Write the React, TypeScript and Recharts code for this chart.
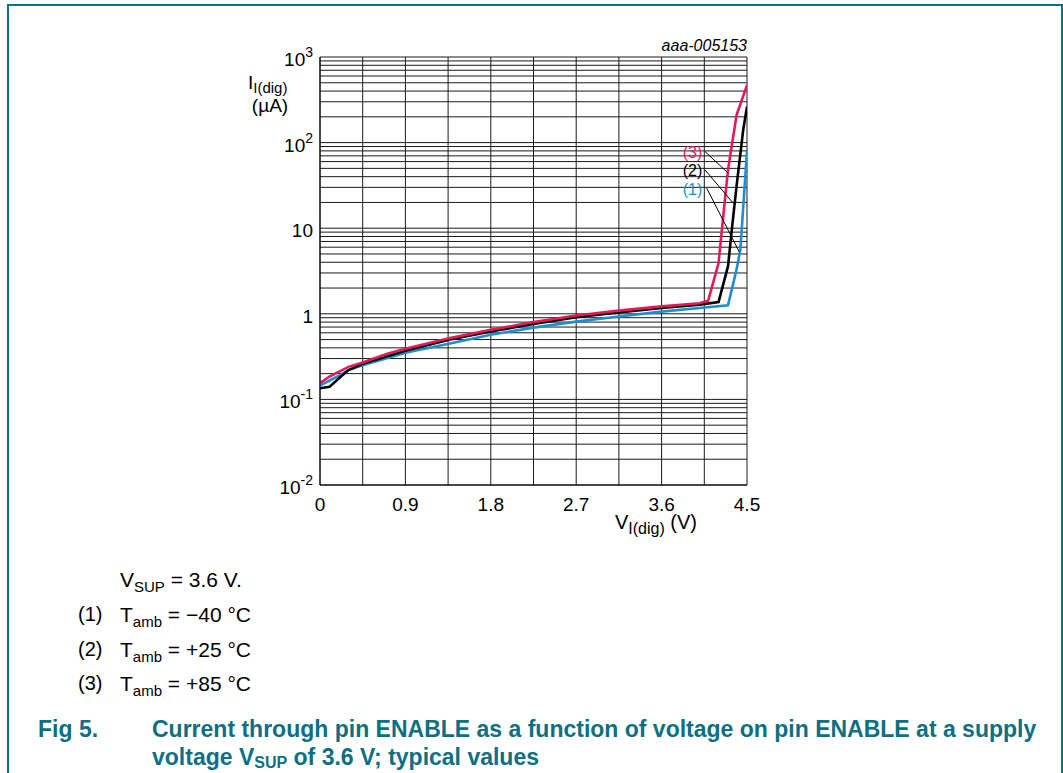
import React from 'react';
import { LineChart, Line, XAxis, YAxis, CartesianGrid, ReferenceLine, ReferenceDot } from 'recharts';

// axis ticks (V every 0.45, log grid 1..9 per decade)
const xTicks = [0, 0.45, 0.9, 1.35, 1.8, 2.25, 2.7, 3.15, 3.6, 4.05, 4.5];
const xLabelTicks = [0, 0.9, 1.8, 2.7, 3.6, 4.5];
const yTicks = [
  0.01, 0.02, 0.03, 0.04, 0.05, 0.06, 0.07, 0.08, 0.09,
  0.1, 0.2, 0.3, 0.4, 0.5, 0.6, 0.7, 0.8, 0.9,
  1, 2, 3, 4, 5, 6, 7, 8, 9,
  10, 20, 30, 40, 50, 60, 70, 80, 90,
  100, 200, 300, 400, 500, 600, 700, 800, 900,
  1000,
];
const yDecades = [1000, 100, 10, 1, 0.1, 0.01];
const yDecadeBase = ['10', '10', '10', '1', '10', '10'];
const yDecadeExp = ['3', '2', '', '', '-1', '-2'];

// (1) Tamb = -40 C
const vCold = [0, 0.2, 0.3, 0.45, 0.9, 1.37, 1.8, 2.25, 2.7, 3.15, 3.6, 4.0, 4.3, 4.39, 4.43, 4.5];
const iCold = [0.145, 0.19, 0.22, 0.25, 0.35, 0.45, 0.57, 0.69, 0.81, 0.93, 1.06, 1.17, 1.26, 3.3, 5.6, 80];
// (2) Tamb = +25 C
const vRoom = [0, 0.1, 0.2, 0.3, 0.45, 0.9, 1.37, 1.8, 2.25, 2.7, 3.15, 3.6, 4.0, 4.2, 4.3, 4.34, 4.39, 4.46, 4.5];
const iRoom = [0.135, 0.14, 0.177, 0.22, 0.26, 0.37, 0.5, 0.62, 0.76, 0.91, 1.04, 1.17, 1.28, 1.37, 3.6, 9.6, 31, 141, 263];
// (3) Tamb = +85 C
const vHot = [0, 0.1, 0.3, 0.45, 0.7, 0.9, 1.37, 1.8, 2.25, 2.7, 3.15, 3.6, 4.0, 4.09, 4.2, 4.27, 4.3, 4.39, 4.5];
const iHot = [0.155, 0.185, 0.24, 0.27, 0.34, 0.39, 0.52, 0.65, 0.8, 0.955, 1.09, 1.22, 1.33, 1.42, 3.9, 23, 48, 210, 470];

const seriesLabels = ['(1)', '(2)', '(3)'];
const seriesColors = ['#1f8dd0', '#000000', '#e5185d'];
// label anchor and leader line ends, in data units
const labelPos = [
  { x: 3.925, y: 28.1 },
  { x: 3.925, y: 46.9 },
  { x: 3.925, y: 76 },
];
const leaderLines = [
  [{ x: 4.075, y: 29.4 }, { x: 4.418, y: 5.3 }],
  [{ x: 4.057, y: 48 }, { x: 4.355, y: 19.6 }],
  [{ x: 4.057, y: 78.7 }, { x: 4.302, y: 44 }],
];

const toPoints = (vs: number[], is: number[]) => vs.map((v, k) => ({ v, i: is[k] }));
const dataCold = toPoints(vCold, iCold);
const dataRoom = toPoints(vRoom, iRoom);
const dataHot = toPoints(vHot, iHot);

const FONT = '"Liberation Sans", Arial, Helvetica, sans-serif';
const TEAL = '#0d6f83';

const XTick = (props: any) => {
  const { x, y, payload } = props;
  if (!xLabelTicks.some((t) => Math.abs(t - payload.value) < 1e-6)) return null;
  return (
    <text x={x} y={y + 26} textAnchor="middle" fontSize={19} fontFamily={FONT} fill="#000">
      {String(payload.value)}
    </text>
  );
};

const YTick = (props: any) => {
  const { x, y, payload } = props;
  const k = yDecades.findIndex((d) => Math.abs(d - payload.value) / d < 1e-6);
  if (k < 0) return null;
  return (
    <text x={x - 7} y={y + 9} textAnchor="end" fontSize={19} fontFamily={FONT} fill="#000">
      {yDecadeBase[k]}
      {yDecadeExp[k] && (
        <tspan fontSize={14} dy={-9}>
          {yDecadeExp[k]}
        </tspan>
      )}
    </text>
  );
};

const App: React.FC = () => {
  return (
    <div
      style={{
        position: 'absolute',
        left: 0,
        top: 0,
        width: 1063,
        height: 773,
        background: '#fff',
        overflow: 'hidden',
        fontFamily: FONT,
      }}
    >
      {/* figure frame, open at the bottom */}
      <div
        style={{
          position: 'absolute',
          left: 7,
          top: 4,
          width: 1056,
          height: 769,
          boxSizing: 'border-box',
          borderTop: `2px solid ${TEAL}`,
          borderLeft: `2px solid ${TEAL}`,
          borderRight: `2px solid ${TEAL}`,
        }}
      />

      <div style={{ position: 'absolute', left: 0, top: 0 }}>
        <LineChart width={1063} height={560} margin={{ top: 57, right: 316, bottom: 35, left: 260 }}>
          <CartesianGrid stroke="#1a1a1a" strokeWidth={1} />
          <XAxis
            type="number"
            dataKey="v"
            domain={[0, 4.5]}
            ticks={xTicks}
            interval={0}
            allowDataOverflow
            tickLine={false}
            tickSize={0}
            tickMargin={0}
            axisLine={{ stroke: '#000' }}
            tick={<XTick />}
            height={40}
          />
          <YAxis
            type="number"
            dataKey="i"
            scale="log"
            domain={[0.01, 1000]}
            ticks={yTicks}
            interval={0}
            allowDataOverflow
            tickLine={false}
            tickSize={0}
            tickMargin={0}
            axisLine={{ stroke: '#000' }}
            tick={<YTick />}
            width={60}
          />
          <Line data={dataCold} dataKey="i" type="linear" stroke={seriesColors[0]} strokeWidth={2.6} dot={false} isAnimationActive={false} />
          <Line data={dataRoom} dataKey="i" type="linear" stroke={seriesColors[1]} strokeWidth={2.6} dot={false} isAnimationActive={false} />
          <Line data={dataHot} dataKey="i" type="linear" stroke={seriesColors[2]} strokeWidth={2.6} dot={false} isAnimationActive={false} />
          {leaderLines.map((seg, k) => (
            <ReferenceLine key={`lead${k}`} segment={seg} stroke="#000" strokeWidth={1} />
          ))}
          {labelPos.map((p, k) => (
            <ReferenceDot
              key={`lab${k}`}
              x={p.x}
              y={p.y}
              r={0}
              shape={(sp: any) => (
                <text
                  x={sp.cx}
                  y={sp.cy + 5.5}
                  textAnchor="middle"
                  fontSize={16}
                  fontFamily={FONT}
                  fill={seriesColors[k]}
                >
                  {seriesLabels[k]}
                </text>
              )}
            />
          ))}
        </LineChart>
      </div>

      {/* axis titles and figure code */}
      <svg
        width={1063}
        height={560}
        style={{ position: 'absolute', left: 0, top: 0, pointerEvents: 'none' }}
        fontFamily={FONT}
      >
        <text x={747} y={51} textAnchor="end" fontSize={16} fontStyle="italic" fill="#000">
          aaa-005153
        </text>
        <text x={248} y={89} fontSize={19} fill="#000">
          I
          <tspan fontSize={15} dy={4}>
            I(dig)
          </tspan>
        </text>
        <text x={270} y={112} textAnchor="middle" fontSize={19} fill="#000">
          (µA)
        </text>
        <text x={615} y={529} fontSize={20} fill="#000">
          V
          <tspan fontSize={16} dy={5}>
            I(dig)
          </tspan>
          <tspan fontSize={20} dy={-5}>
            {' (V)'}
          </tspan>
        </text>
      </svg>

      {/* conditions */}
      <div style={{ position: 'absolute', left: 120, top: 569, fontSize: 21, lineHeight: '21px', whiteSpace: 'nowrap' }}>
        V<span style={{ fontSize: 15, position: 'relative', top: 5 }}>SUP</span> = 3.6 V.
      </div>
      {[
        ['(1)', '−40'],
        ['(2)', '+25'],
        ['(3)', '+85'],
      ].map(([n, t], k) => (
        <React.Fragment key={n}>
          <div style={{ position: 'absolute', left: 78, top: 604 + k * 34.5, fontSize: 20, lineHeight: '21px' }}>{n}</div>
          <div
            style={{ position: 'absolute', left: 120, top: 604 + k * 34.5, fontSize: 21, lineHeight: '21px', whiteSpace: 'nowrap' }}
          >
            T<span style={{ fontSize: 15, position: 'relative', top: 5 }}>amb</span> = {t} °C
          </div>
        </React.Fragment>
      ))}

      {/* caption */}
      <div
        style={{
          position: 'absolute',
          left: 38,
          top: 715,
          fontSize: 23,
          lineHeight: '28px',
          fontWeight: 'bold',
          color: TEAL,
          whiteSpace: 'nowrap',
        }}
      >
        Fig 5.
      </div>
      <div
        style={{
          position: 'absolute',
          left: 152,
          top: 715,
          fontSize: 23,
          lineHeight: '28px',
          fontWeight: 'bold',
          color: TEAL,
          whiteSpace: 'nowrap',
        }}
      >
        Current through pin ENABLE as a function of voltage on pin ENABLE at a supply
        <br />
        voltage V<span style={{ fontSize: 16, position: 'relative', top: 3 }}>SUP</span> of 3.6 V; typical values
      </div>
    </div>
  );
};

export default App;
